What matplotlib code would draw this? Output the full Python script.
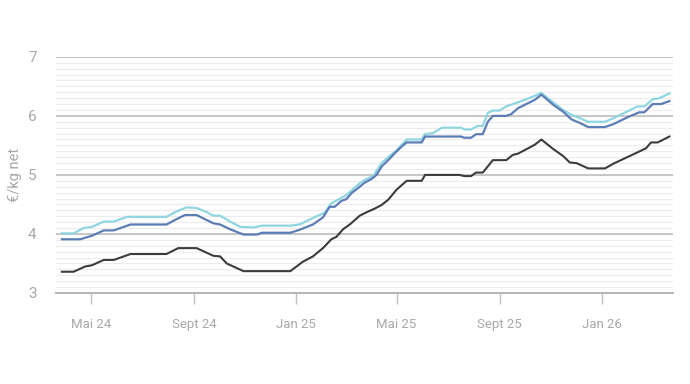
import matplotlib.pyplot as plt
import numpy as np
import pandas as pd

# values (€/kg net), vertices of each line
dark_dates = ['2024-03-27', '2024-04-10', '2024-04-24', '2024-05-02', '2024-05-16', '2024-05-28',
              '2024-06-17', '2024-07-30', '2024-08-13', '2024-09-04', '2024-09-24', '2024-10-02',
              '2024-10-10', '2024-10-30', '2024-12-25', '2025-01-09', '2025-01-21', '2025-02-02',
              '2025-02-12', '2025-02-18', '2025-02-26', '2025-03-06', '2025-03-18', '2025-03-28',
              '2025-04-05', '2025-04-13', '2025-04-21', '2025-05-01', '2025-05-13', '2025-05-31',
              '2025-06-04', '2025-07-15', '2025-07-21', '2025-07-29', '2025-08-04', '2025-08-12',
              '2025-08-24', '2025-09-09', '2025-09-17', '2025-09-23', '2025-10-13', '2025-10-21',
              '2025-11-04', '2025-11-16', '2025-11-24', '2025-12-02', '2025-12-16', '2026-01-05',
              '2026-01-15', '2026-02-23', '2026-03-01', '2026-03-09', '2026-03-23']
dark_vals = [3.36, 3.36, 3.45, 3.47, 3.56, 3.56,
             3.66, 3.66, 3.76, 3.76, 3.63, 3.62,
             3.50, 3.37, 3.37, 3.53, 3.62, 3.76,
             3.91, 3.95, 4.08, 4.16, 4.31, 4.38,
             4.43, 4.49, 4.58, 4.75, 4.90, 4.90,
             5.00, 5.00, 4.98, 4.98, 5.04, 5.04,
             5.25, 5.25, 5.34, 5.36, 5.51, 5.60,
             5.44, 5.32, 5.21, 5.20, 5.11, 5.11,
             5.19, 5.45, 5.55, 5.55, 5.65]

blue_dates = ['2024-03-27', '2024-04-18', '2024-05-02', '2024-05-16', '2024-05-28', '2024-06-17',
              '2024-07-30', '2024-08-11', '2024-08-21', '2024-09-04', '2024-09-24', '2024-10-02',
              '2024-10-14', '2024-10-30', '2024-11-15', '2024-11-21', '2024-12-25', '2025-01-05',
              '2025-01-21', '2025-02-02', '2025-02-10', '2025-02-16', '2025-02-24', '2025-03-02',
              '2025-03-08', '2025-03-18', '2025-03-24', '2025-04-01', '2025-04-07', '2025-04-13',
              '2025-04-21', '2025-04-29', '2025-05-07', '2025-05-13', '2025-05-31', '2025-06-04',
              '2025-07-17', '2025-07-21', '2025-07-29', '2025-08-04', '2025-08-12', '2025-08-18',
              '2025-08-24', '2025-09-09', '2025-09-15', '2025-09-23', '2025-10-13', '2025-10-21',
              '2025-11-04', '2025-11-16', '2025-11-26', '2025-12-06', '2025-12-16', '2026-01-05',
              '2026-01-15', '2026-02-03', '2026-02-15', '2026-02-21', '2026-03-03', '2026-03-13',
              '2026-03-23']
blue_vals = [3.91, 3.91, 3.97, 4.06, 4.06, 4.16,
             4.16, 4.25, 4.32, 4.32, 4.18, 4.16,
             4.08, 3.99, 3.99, 4.02, 4.02, 4.07,
             4.16, 4.28, 4.46, 4.46, 4.56, 4.59,
             4.69, 4.80, 4.87, 4.93, 5.00, 5.14,
             5.25, 5.37, 5.48, 5.55, 5.55, 5.65,
             5.65, 5.63, 5.63, 5.69, 5.69, 5.90,
             6.00, 6.00, 6.03, 6.13, 6.27, 6.36,
             6.19, 6.07, 5.94, 5.88, 5.81, 5.81,
             5.86, 5.99, 6.06, 6.06, 6.20, 6.20,
             6.25]

cyan_dates = ['2024-03-27', '2024-04-10', '2024-04-22', '2024-05-02', '2024-05-16', '2024-05-28',
              '2024-06-13', '2024-07-30', '2024-08-11', '2024-08-23', '2024-09-04', '2024-09-16',
              '2024-09-24', '2024-10-02', '2024-10-14', '2024-10-26', '2024-11-11', '2024-11-21',
              '2024-12-25', '2025-01-05', '2025-01-21', '2025-02-04', '2025-02-12', '2025-02-20',
              '2025-03-02', '2025-03-10', '2025-03-18', '2025-03-26', '2025-04-03', '2025-04-13',
              '2025-04-21', '2025-05-01', '2025-05-13', '2025-05-31', '2025-06-04', '2025-06-14',
              '2025-06-24', '2025-07-17', '2025-07-21', '2025-07-29', '2025-08-06', '2025-08-12',
              '2025-08-18', '2025-08-24', '2025-09-01', '2025-09-09', '2025-09-21', '2025-10-03',
              '2025-10-13', '2025-10-21', '2025-11-04', '2025-11-16', '2025-11-26', '2025-12-06',
              '2025-12-16', '2026-01-05', '2026-01-15', '2026-02-03', '2026-02-13', '2026-02-21',
              '2026-03-03', '2026-03-11', '2026-03-23']
cyan_vals = [4.01, 4.01, 4.10, 4.12, 4.21, 4.21,
             4.29, 4.29, 4.38, 4.45, 4.44, 4.37,
             4.31, 4.31, 4.21, 4.12, 4.11, 4.14,
             4.14, 4.16, 4.27, 4.36, 4.52, 4.58,
             4.66, 4.76, 4.86, 4.93, 4.98, 5.20,
             5.30, 5.42, 5.60, 5.60, 5.69, 5.71,
             5.80, 5.80, 5.77, 5.77, 5.83, 5.83,
             6.05, 6.09, 6.09, 6.16, 6.22, 6.28,
             6.34, 6.39, 6.23, 6.10, 6.02, 5.96,
             5.90, 5.90, 5.96, 6.09, 6.16, 6.16,
             6.28, 6.30, 6.38]

tick_dates = ['2024-05-01', '2024-09-01', '2025-01-01', '2025-05-01', '2025-09-01', '2026-01-01']
tick_labels = ['Mai 24', 'Sept 24', 'Jan 25', 'Mai 25', 'Sept 25', 'Jan 26']

plt.rcParams['font.family'] = ['Liberation Sans Narrow', 'Roboto', 'DejaVu Sans']
txt = '#a8a8a8'

fig = plt.figure(figsize=(6.9, 3.84), dpi=100)
ax = fig.add_axes([0.0812, 0.237, 0.8938, 0.615])

# grid: light every 0.1, stronger every 1
for v in np.arange(3.1, 7.0, 0.1):
    ax.axhline(v, color='#ececec', lw=0.8, zorder=0)
for v in [4, 5, 6, 7]:
    ax.axhline(v, color='#c6c6c6', lw=1.4, zorder=1)

ax.plot(pd.to_datetime(cyan_dates), cyan_vals, color='#8fd6e2', lw=1.6, zorder=3)
ax.plot(pd.to_datetime(blue_dates), blue_vals, color='#5c7db6', lw=1.6, zorder=4)
ax.plot(pd.to_datetime(dark_dates), dark_vals, color='#3c3c3c', lw=1.5, zorder=5)

ax.set_xlim(pd.Timestamp('2024-03-20'), pd.Timestamp('2026-03-27'))
ax.set_ylim(3, 7)

for s in ['top', 'right', 'left']:
    ax.spines[s].set_visible(False)
ax.spines['bottom'].set_color('#b4b4b4')
ax.spines['bottom'].set_linewidth(1.4)

ax.set_xticks(pd.to_datetime(tick_dates))
ax.set_xticklabels(tick_labels)
ax.tick_params(axis='x', length=8, width=1, color='#c0c0c0', labelcolor=txt, labelsize=9.5, pad=10)
ax.set_yticks([3, 4, 5, 6, 7])
ax.tick_params(axis='y', length=0, labelcolor=txt, labelsize=11, pad=14)
fig.text(15 / 690, 1 - 175 / 384, '€/kg net', color=txt, fontsize=10.5,
         rotation=90, ha='center', va='center')

fig.savefig('out.png', dpi=100, facecolor='white')
